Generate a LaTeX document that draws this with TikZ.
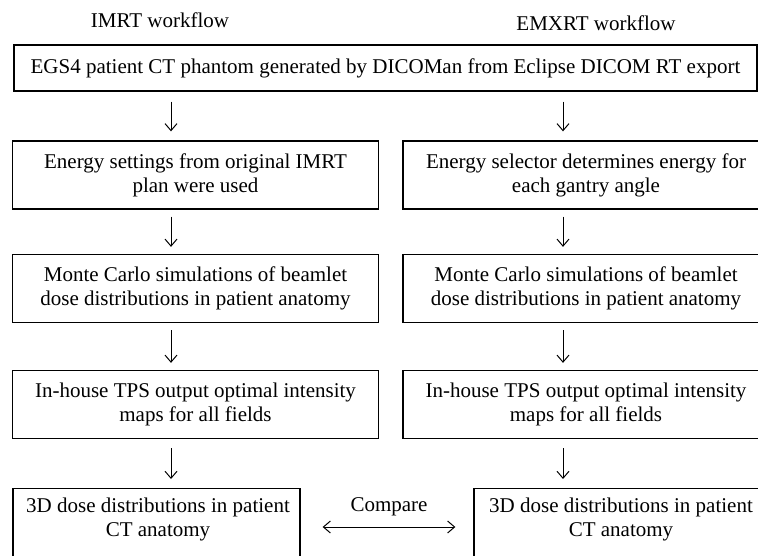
\documentclass[tikz,border=0pt]{standalone}
\usepackage{fontspec}
\setmainfont{Liberation Serif}
\usetikzlibrary{arrows.meta}
\begin{document}
\begin{tikzpicture}[x=1pt,y=-1pt,
  font=\fontsize{21}{24}\selectfont,
  box/.style={draw=black, line width=1.3pt, rectangle, inner sep=0pt, align=center,
              minimum width=366pt, minimum height=68pt},
  txt/.style={inner sep=0pt, align=center},
  arr/.style={-{Straight Barb[length=7pt,width=12pt]}, line width=1pt},
  darr/.style={{Straight Barb[length=7pt,width=12pt]}-{Straight Barb[length=7pt,width=12pt]}, line width=1pt}]
\clip (0,0) rectangle (758,556);
\fill[white] (0,0) rectangle (758,556);
% headings
\node[txt] (hl) at (160,20) {IMRT workflow};
\node[txt] (hr) at (596,23) {EMXRT workflow};
% top box
\node[box, minimum width=743pt, minimum height=46pt] (top) at (385.5,68)
  {EGS4 patient CT phantom generated by DICOMan from Eclipse DICOM RT export};
% rows
\node[box] (l2) at (195.5,175) {Energy settings from original IMRT\\plan were used};
\node[box] (r2) at (586,175) {Energy selector determines energy for\\each gantry angle};
\node[box] (l3) at (195.5,288.5) {Monte Carlo simulations of beamlet\\dose distributions in patient anatomy};
\node[box] (r3) at (586,288.5) {Monte Carlo simulations of beamlet\\dose distributions in patient anatomy};
\node[box] (l4) at (195.5,404.5) {In-house TPS output optimal intensity\\maps for all fields};
\node[box] (r4) at (586,404.5) {In-house TPS output optimal intensity\\maps for all fields};
% bottom boxes (cut by the frame)
\node[box, minimum width=287pt, minimum height=140pt, anchor=north] (l5) at (156.5,488) {};
\node[txt] (l5t) at (158,519) {3D dose distributions in patient\\CT anatomy};
\node[box, minimum width=290pt, minimum height=140pt, anchor=north] (r5) at (619,488) {};
\node[txt] (r5t) at (621,519) {3D dose distributions in patient\\CT anatomy};
% arrow columns
\coordinate (lx) at (171,0);
\coordinate (rx) at (563,0);
\coordinate (cy) at (0,527);
\draw[arr, shorten <=10pt, shorten >=9pt] (top.south -| lx) -- (l2.north -| lx);
\draw[arr, shorten <=10pt, shorten >=9pt] (top.south -| rx) -- (r2.north -| rx);
\draw[arr, shorten <=7pt, shorten >=7pt] (l2.south -| lx) -- (l3.north -| lx);
\draw[arr, shorten <=7pt, shorten >=7pt] (r2.south -| rx) -- (r3.north -| rx);
\draw[arr, shorten <=7pt, shorten >=7pt] (l3.south -| lx) -- (l4.north -| lx);
\draw[arr, shorten <=7pt, shorten >=7pt] (r3.south -| rx) -- (r4.north -| rx);
\draw[arr, shorten <=9pt, shorten >=9pt] (l4.south -| lx) -- (l5.north -| lx);
\draw[arr, shorten <=9pt, shorten >=9pt] (r4.south -| rx) -- (r5.north -| rx);
% compare
\node[txt] (cmp) at (389,507) {Compare};
\draw[darr, shorten <=22pt, shorten >=18pt] (l5.east |- cy) -- (r5.west |- cy);
\end{tikzpicture}
\end{document}
